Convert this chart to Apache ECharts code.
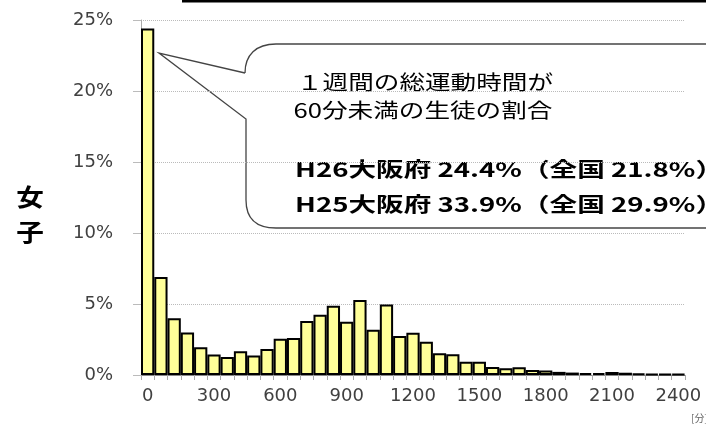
<!DOCTYPE html>
<html>
<head>
<meta charset="utf-8">
<script src="https://cdn.jsdelivr.net/npm/echarts@6/dist/echarts.min.js"></script>
<style>
html,body{margin:0;padding:0;background:#fff;}
#chart_main{width:706px;height:427px;}
</style>
</head>
<body>
<div id="chart_main"></div>
<script type="text/javascript">
// 1週間の総運動時間（分）ごとの割合 女子
var categories = ['0','60','120','180','240','300','360','420','480','540',
	'600','660','720','780','840','900','960','1020','1080','1140',
	'1200','1260','1320','1380','1440','1500','1560','1620','1680','1740',
	'1800','1860','1920','1980','2040','2100','2160','2220','2280','2340','2400'];
var girls = [24.4, 6.9, 4.0, 3.0, 1.95, 1.45, 1.27, 1.68, 1.37, 1.83,
	2.56, 2.6, 3.8, 4.25, 4.87, 3.75, 5.28, 3.18, 4.97, 2.75,
	2.97, 2.35, 1.53, 1.46, 0.94, 0.94, 0.57, 0.48, 0.54, 0.35,
	0.32, 0.22, 0.17, 0.13, 0.13, 0.21, 0.16, 0.09, 0.08, 0.07, 0.06];
var yTicks = [0, 5, 10, 15, 20, 25];
var noteLines = ['１週間の総運動時間が', '60分未満の生徒の割合'];
var rateLines = ['H26大阪府 24.4%（全国 21.8%）', 'H25大阪府 33.9%（全国 29.9%）'];

var myChart = echarts.init(document.getElementById('chart_main'));
var labelFont = '"DejaVu Sans", Verdana, sans-serif';
var jpFont = '"Noto Sans CJK JP", sans-serif';
var boxStyle = {fill: 'none', stroke: '#444', lineWidth: 1.3};

var option = {
	animation: false,
	grid: {left: 141, right: 21, top: 20, bottom: 52, containLabel: false},
	xAxis: {
		type: 'category',
		data: categories,
		boundaryGap: true,
		axisLine: {lineStyle: {color: '#888', width: 1}},
		axisTick: {show: true, interval: 0, length: 5, alignWithLabel: false, lineStyle: {color: '#aaa'}},
		axisLabel: {interval: 4, margin: 12, color: '#404040', fontSize: 18, fontFamily: labelFont}
	},
	yAxis: {
		type: 'value',
		min: yTicks[0],
		max: yTicks[yTicks.length - 1],
		interval: 5,
		axisLine: {show: true, lineStyle: {color: '#aaa'}},
		axisTick: {show: true, length: 8, lineStyle: {color: '#bbb'}},
		axisLabel: {formatter: '{value}%', margin: 28, color: '#404040', fontSize: 18, fontFamily: labelFont},
		splitLine: {show: true, lineStyle: {type: 'dotted', color: '#bbb', width: 1}}
	},
	series: [{
		type: 'bar',
		data: girls,
		barCategoryGap: '0%',
		itemStyle: {color: '#FFFF99', borderColor: '#000', borderWidth: 2}
	}],
	graphic: [
		// 上端の表の罫線（切れた部分）
		{type: 'line', shape: {x1: 182, y1: 1, x2: 706, y2: 1}, style: {stroke: '#000', lineWidth: 3}},
		// 吹き出し
		{type: 'polyline', shape: {points: [[245, 73], [159, 53], [246, 119], [246, 200]]}, style: boxStyle},
		{type: 'bezierCurve', shape: {x1: 245, y1: 73, cpx1: 245, cpy1: 55, cpx2: 256, cpy2: 44, x2: 276, y2: 44}, style: boxStyle},
		{type: 'line', shape: {x1: 276, y1: 44, x2: 740, y2: 44}, style: boxStyle},
		{type: 'bezierCurve', shape: {x1: 246, y1: 200, cpx1: 246, cpy1: 218, cpx2: 256, cpy2: 228, x2: 276, y2: 228}, style: boxStyle},
		{type: 'line', shape: {x1: 276, y1: 228, x2: 740, y2: 228}, style: boxStyle},
		{type: 'text', x: 425, y: 82, scaleX: 1.28,
			style: {text: noteLines[0], font: '20px ' + jpFont, fill: '#000', textAlign: 'center', textVerticalAlign: 'middle'}},
		{type: 'text', x: 423, y: 110, scaleX: 1.28,
			style: {text: noteLines[1], font: '20px ' + jpFont, fill: '#000', textAlign: 'center', textVerticalAlign: 'middle'}},
		{type: 'text', x: 295, y: 169, scaleX: 1.38,
			style: {text: rateLines[0], font: 'bold 20px ' + jpFont, fill: '#000', textAlign: 'left', textVerticalAlign: 'middle'}},
		{type: 'text', x: 295, y: 204, scaleX: 1.38,
			style: {text: rateLines[1], font: 'bold 20px ' + jpFont, fill: '#000', textAlign: 'left', textVerticalAlign: 'middle'}},
		// 縦書きの「女子」
		{type: 'text', x: 30, y: 197, scaleX: 1.15,
			style: {text: '女', font: 'bold 24px ' + jpFont, fill: '#000', textAlign: 'center', textVerticalAlign: 'middle'}},
		{type: 'text', x: 30, y: 232, scaleX: 1.15,
			style: {text: '子', font: 'bold 24px ' + jpFont, fill: '#000', textAlign: 'center', textVerticalAlign: 'middle'}},
		// 単位
		{type: 'text', x: 691, y: 418,
			style: {text: '[分]', font: '10px ' + jpFont, fill: '#666', textAlign: 'left', textVerticalAlign: 'middle'}}
	]
};
myChart.setOption(option);
</script>
</body>
</html>
